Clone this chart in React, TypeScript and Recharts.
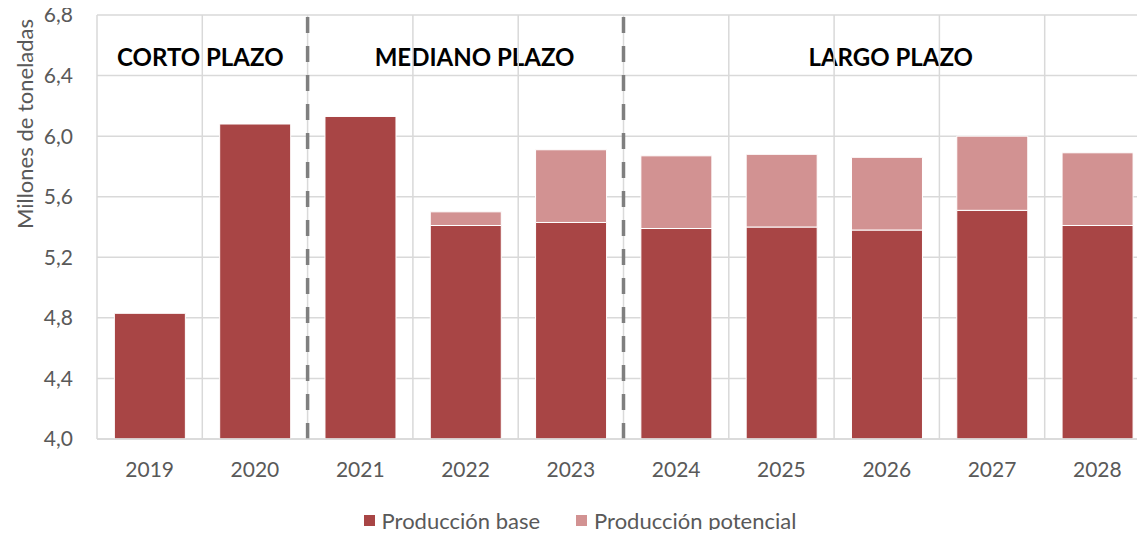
// Producción base vs potencial 2019-2028, barras apiladas con divisiones por plazo.
import React from 'react'
import {
  BarChart, Bar, XAxis, YAxis, CartesianGrid, Legend, ReferenceLine, ReferenceArea,
} from 'recharts'

const years = ['2019', '2020', '2021', '2022', '2023', '2024', '2025', '2026', '2027', '2028']
const baseProd = [4.83, 6.08, 6.13, 5.41, 5.43, 5.39, 5.40, 5.38, 5.51, 5.41]
const potentialProd = [0, 0, 0, 0.09, 0.48, 0.48, 0.48, 0.48, 0.49, 0.48]
const yTicks = [4.0, 4.4, 4.8, 5.2, 5.6, 6.0, 6.4, 6.8]
const periodLabels = ['CORTO PLAZO', 'MEDIANO PLAZO', 'LARGO PLAZO']
const periodFrom = ['2019', '2021', '2024']
const periodTo = ['2020', '2023', '2028']
const dividers = ['2021', '2024']

const data = years.map((year, i) => ({ year, base: baseProd[i], potencial: potentialProd[i] }))

const FONT = 'Lato, "Open Sans", sans-serif'
const GRAY = '#595959'
const GRID = '#D9D9D9'
const labelNudge = [-2, 9, 4]

const fmt = (v: number) => v.toFixed(1).replace('.', ',')

function PeriodLabel({ viewBox, text, nudge }: any) {
  if (!viewBox) return null
  return (
    <text
      x={viewBox.x + viewBox.width / 2 + nudge}
      y={viewBox.y + viewBox.height / 2}
      textAnchor="middle"
      dominantBaseline="central"
      fontFamily={FONT}
      fontWeight={700}
      fontSize={24}
      fill="#000"
    >
      {text}
    </text>
  )
}

function AxisTitle({ viewBox }: any) {
  if (!viewBox) return null
  const x = viewBox.x + 24
  const y = viewBox.y + 109
  return (
    <text
      x={x}
      y={y}
      transform={`rotate(-90, ${x}, ${y})`}
      textAnchor="middle"
      dominantBaseline="central"
      fontFamily={FONT}
      fontSize={22}
      fill={GRAY}
    >
      Millones de toneladas
    </text>
  )
}

function LegendContent({ payload }: any) {
  return (
    <div
      style={{
        display: 'flex', justifyContent: 'center', alignItems: 'center', gap: 36,
        height: 36, paddingLeft: 10, fontFamily: FONT, fontSize: 22, color: GRAY,
      }}
    >
      {(payload || []).map((p: any) => (
        <div key={p.value} style={{ display: 'flex', alignItems: 'center', gap: 7 }}>
          <span style={{ width: 11, height: 11, background: p.color, display: 'inline-block' }} />
          <span>{p.value}</span>
        </div>
      ))}
    </div>
  )
}

export default function App() {
  return (
    <div style={{ margin: -8, width: 1145, height: 538, overflow: 'hidden', background: '#fff' }}>
      <BarChart
        width={1150}
        height={538}
        data={data}
        margin={{ top: 15, right: 0, left: 0, bottom: 0 }}
        barCategoryGap="16.5%"
      >
        <CartesianGrid vertical={false} stroke={GRID} strokeWidth={1.5} />
        <XAxis
          dataKey="year"
          height={63}
          tickLine={false}
          tickSize={0}
          tickMargin={23}
          axisLine={{ stroke: GRID, strokeWidth: 1.5 }}
          tick={{ fill: GRAY, fontSize: 21, fontFamily: FONT }}
        />
        <YAxis
          width={97}
          domain={[4, 6.8]}
          ticks={yTicks}
          allowDataOverflow
          axisLine={false}
          tickLine={false}
          tickSize={0}
          tickMargin={24}
          tickFormatter={fmt}
          tick={{ fill: GRAY, fontSize: 21, fontFamily: FONT }}
          label={<AxisTitle />}
        />
        {years.map(y => (
          <ReferenceLine key={y} x={y} position="start" stroke={GRID} strokeWidth={1.5} />
        ))}
        <ReferenceLine x={years[years.length - 1]} position="end" stroke={GRID} strokeWidth={1.5} />
        <Bar
          dataKey="base"
          name="Producción base"
          stackId="a"
          fill="#A84545"
          stroke="#fff"
          strokeWidth={1}
          isAnimationActive={false}
        />
        <Bar
          dataKey="potencial"
          name="Producción potencial"
          stackId="a"
          fill="#D29292"
          stroke="#fff"
          strokeWidth={1}
          isAnimationActive={false}
        />
        {dividers.map(d => (
          <ReferenceLine
            key={'div' + d}
            x={d}
            position="start"
            stroke="#7F7F7F"
            strokeWidth={3.5}
            strokeDasharray="16 13"
          />
        ))}
        {periodLabels.map((t, i) => (
          <ReferenceArea
            key={t}
            x1={periodFrom[i]}
            x2={periodTo[i]}
            y1={6.45}
            y2={6.6}
            fill="none"
            fillOpacity={0}
            stroke="none"
            label={<PeriodLabel text={t} nudge={labelNudge[i]} />}
          />
        ))}
        <Legend verticalAlign="bottom" height={36} content={<LegendContent />} />
      </BarChart>
    </div>
  )
}
